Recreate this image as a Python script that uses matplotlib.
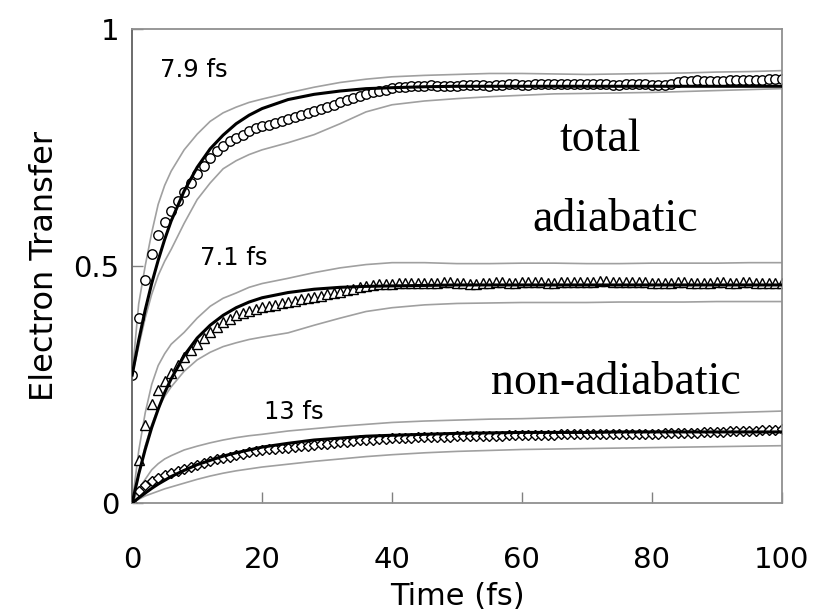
import numpy as np
import matplotlib
matplotlib.use("Agg")
from matplotlib import pyplot as plt

# simulated points, one every fs
time_pts = list(range(0, 101))
total_pts = [
    0.27, 0.39, 0.47, 0.525, 0.565, 0.593, 0.615, 0.637, 0.656, 0.675,
    0.694, 0.711, 0.727, 0.742, 0.754, 0.763, 0.770, 0.777, 0.784, 0.790,
    0.795, 0.798, 0.801, 0.806, 0.811, 0.815, 0.819, 0.823, 0.827, 0.831,
    0.835, 0.840, 0.845, 0.850, 0.855, 0.859, 0.863, 0.866, 0.869, 0.872,
    0.875, 0.877, 0.878, 0.879, 0.880, 0.880, 0.881, 0.880, 0.879, 0.879,
    0.880, 0.881, 0.882, 0.882, 0.881, 0.880, 0.881, 0.882, 0.883, 0.883,
    0.882, 0.882, 0.883, 0.884, 0.884, 0.883, 0.883, 0.884, 0.884, 0.883,
    0.883, 0.884, 0.884, 0.883, 0.882, 0.882, 0.883, 0.884, 0.884, 0.883,
    0.882, 0.881, 0.881, 0.884, 0.887, 0.890, 0.891, 0.892, 0.891, 0.890,
    0.890, 0.891, 0.892, 0.893, 0.893, 0.892, 0.892, 0.893, 0.894, 0.894,
    0.895]
adiab_pts = [
    0.0, 0.09, 0.165, 0.209, 0.238, 0.257, 0.275, 0.292, 0.308, 0.322,
    0.336, 0.348, 0.360, 0.371, 0.381, 0.389, 0.396, 0.401, 0.406, 0.410,
    0.413, 0.416, 0.418, 0.421, 0.424, 0.427, 0.430, 0.432, 0.435, 0.437,
    0.440, 0.443, 0.446, 0.449, 0.452, 0.455, 0.457, 0.459, 0.461, 0.462,
    0.463, 0.464, 0.464, 0.465, 0.465, 0.464, 0.464, 0.465, 0.466, 0.466,
    0.465, 0.464, 0.463, 0.463, 0.464, 0.465, 0.466, 0.466, 0.465, 0.465,
    0.466, 0.467, 0.467, 0.466, 0.465, 0.465, 0.466, 0.467, 0.467, 0.466,
    0.466, 0.467, 0.468, 0.468, 0.467, 0.466, 0.466, 0.467, 0.467, 0.466,
    0.465, 0.464, 0.464, 0.465, 0.466, 0.466, 0.465, 0.464, 0.464, 0.465,
    0.466, 0.466, 0.465, 0.465, 0.466, 0.466, 0.465, 0.465, 0.465, 0.464,
    0.464]
nonad_pts = [
    0.0, 0.025, 0.038, 0.046, 0.053, 0.059, 0.064, 0.068, 0.072, 0.076,
    0.080, 0.084, 0.088, 0.092, 0.095, 0.098, 0.101, 0.104, 0.107, 0.109,
    0.111, 0.113, 0.115, 0.116, 0.117, 0.118, 0.120, 0.121, 0.122, 0.124,
    0.125, 0.126, 0.128, 0.129, 0.131, 0.132, 0.133, 0.134, 0.135, 0.136,
    0.137, 0.137, 0.138, 0.138, 0.139, 0.139, 0.139, 0.140, 0.140, 0.140,
    0.141, 0.141, 0.141, 0.141, 0.142, 0.142, 0.142, 0.142, 0.143, 0.143,
    0.143, 0.143, 0.144, 0.144, 0.144, 0.144, 0.145, 0.145, 0.145, 0.145,
    0.145, 0.145, 0.146, 0.146, 0.146, 0.146, 0.146, 0.146, 0.146, 0.146,
    0.146, 0.146, 0.147, 0.147, 0.147, 0.148, 0.148, 0.148, 0.149, 0.149,
    0.150, 0.150, 0.151, 0.151, 0.152, 0.153, 0.153, 0.154, 0.155, 0.155,
    0.156]

# fitted curves and the grey error envelopes, read on a coarser grid
time_line = [0, 1, 2, 3, 4, 5, 6, 8, 10, 12, 14, 16, 18, 20, 24, 28, 32, 36,
             40, 45, 50, 55, 60, 65, 70, 75, 80, 85, 90, 95, 100]
total_fit = [0.27, 0.343, 0.407, 0.463, 0.512, 0.556, 0.595, 0.658, 0.708,
             0.747, 0.776, 0.800, 0.818, 0.832, 0.851, 0.862, 0.869, 0.874,
             0.876, 0.878, 0.879, 0.879, 0.879, 0.879, 0.879, 0.879, 0.879,
             0.879, 0.879, 0.879, 0.879]
total_hi = [0.27, 0.42, 0.50, 0.57, 0.63, 0.67, 0.70, 0.745, 0.778, 0.805,
            0.823, 0.835, 0.845, 0.852, 0.865, 0.877, 0.887, 0.894, 0.899,
            0.902, 0.904, 0.906, 0.906, 0.905, 0.904, 0.905, 0.906, 0.907,
            0.909, 0.910, 0.912]
total_lo = [0.27, 0.33, 0.39, 0.44, 0.48, 0.51, 0.535, 0.59, 0.64, 0.675,
            0.705, 0.722, 0.735, 0.745, 0.760, 0.777, 0.800, 0.825, 0.840,
            0.848, 0.853, 0.857, 0.860, 0.863, 0.864, 0.865, 0.866, 0.868,
            0.870, 0.872, 0.874]
adiab_fit = [0.0, 0.061, 0.113, 0.159, 0.198, 0.233, 0.262, 0.311, 0.348,
             0.375, 0.396, 0.412, 0.424, 0.433, 0.444, 0.451, 0.455, 0.457,
             0.458, 0.459, 0.460, 0.460, 0.460, 0.460, 0.460, 0.460, 0.460,
             0.460, 0.460, 0.460, 0.460]
adiab_hi = [0.0, 0.11, 0.19, 0.25, 0.29, 0.315, 0.335, 0.36, 0.39, 0.415,
            0.432, 0.443, 0.455, 0.463, 0.474, 0.486, 0.496, 0.503, 0.507,
            0.507, 0.505, 0.505, 0.506, 0.506, 0.505, 0.505, 0.506, 0.506,
            0.506, 0.507, 0.507]
adiab_lo = [0.0, 0.06, 0.12, 0.165, 0.20, 0.225, 0.245, 0.278, 0.302, 0.318,
            0.330, 0.338, 0.345, 0.350, 0.359, 0.375, 0.390, 0.404, 0.412,
            0.418, 0.421, 0.422, 0.423, 0.423, 0.423, 0.424, 0.424, 0.424,
            0.425, 0.425, 0.425]
nonad_fit = [0.0, 0.011, 0.021, 0.031, 0.040, 0.048, 0.056, 0.069, 0.081,
             0.090, 0.099, 0.106, 0.112, 0.118, 0.126, 0.133, 0.137, 0.141,
             0.143, 0.145, 0.147, 0.148, 0.149, 0.149, 0.149, 0.150, 0.150,
             0.150, 0.150, 0.150, 0.150]
nonad_hi = [0.0, 0.03, 0.05, 0.07, 0.083, 0.093, 0.10, 0.112, 0.12, 0.127,
            0.133, 0.138, 0.142, 0.145, 0.152, 0.157, 0.162, 0.166, 0.170,
            0.173, 0.175, 0.177, 0.178, 0.180, 0.182, 0.184, 0.186, 0.188,
            0.190, 0.192, 0.194]
nonad_lo = [0.0, 0.008, 0.015, 0.02, 0.025, 0.03, 0.034, 0.042, 0.05, 0.057,
            0.063, 0.068, 0.072, 0.076, 0.082, 0.088, 0.093, 0.098, 0.102,
            0.106, 0.109, 0.111, 0.113, 0.114, 0.115, 0.116, 0.117, 0.118,
            0.119, 0.120, 0.121]

tau_labels = ["7.9 fs", "7.1 fs", "13 fs"]
curve_names = ["total", "adiabatic", "non-adiabatic"]

plt.rcParams["font.family"] = "DejaVu Sans"

fig = plt.figure(figsize=(8.16, 6.15), dpi=100)
ax = fig.add_axes([0.162, 0.182, 0.796, 0.771])

grey = "#a0a0a0"
for hi, lo in [(total_hi, total_lo), (adiab_hi, adiab_lo), (nonad_hi, nonad_lo)]:
    ax.plot(time_line, hi, color=grey, lw=1.2, zorder=1)
    ax.plot(time_line, lo, color=grey, lw=1.2, zorder=1)

ax.plot(time_pts, total_pts, ls="none", marker="o", ms=6.8, mfc="white",
        mec="black", mew=1.0, zorder=2)
ax.plot(time_pts, adiab_pts, ls="none", marker="^", ms=6.8, mfc="white",
        mec="black", mew=1.0, zorder=2)
ax.plot(time_pts, nonad_pts, ls="none", marker="D", ms=4.8, mfc="white",
        mec="black", mew=1.0, zorder=2)

for fit in [total_fit, adiab_fit, nonad_fit]:
    ax.plot(time_line, fit, color="black", lw=2.2, zorder=3)

ax.set_xlim(0, 100)
ax.set_ylim(0, 1)
ax.set_xticks([0, 20, 40, 60, 80, 100])
ax.set_yticks([0, 0.5, 1])
ax.set_yticklabels(["0", "0.5", "1"])
ax.tick_params(direction="in", length=8, width=1, color="#808080",
               labelsize=21)
ax.tick_params(axis="x", pad=31)
ax.tick_params(axis="y", pad=9)
for s in ax.spines.values():
    s.set_color("#909090")
    s.set_linewidth(1.3)
ax.spines["left"].set_color("#606060")

ax.set_xlabel("Time (fs)", fontsize=22, labelpad=6)
ax.set_ylabel("Electron Transfer", fontsize=23, labelpad=10)

ax.text(4.3, 0.913, tau_labels[0], fontsize=17.5, va="center", ha="left")
ax.text(10.5, 0.517, tau_labels[1], fontsize=17.5, va="center", ha="left")
ax.text(20.3, 0.192, tau_labels[2], fontsize=17.5, va="center", ha="left")

serif = "Liberation Serif"
ax.text(72, 0.766, curve_names[0], fontsize=33, family=serif, ha="center", va="center")
ax.text(74.3, 0.597, curve_names[1], fontsize=33, family=serif, ha="center", va="center")
ax.text(74.5, 0.253, curve_names[2], fontsize=33, family=serif, ha="center", va="center")

plt.savefig("out.png", dpi=100)
